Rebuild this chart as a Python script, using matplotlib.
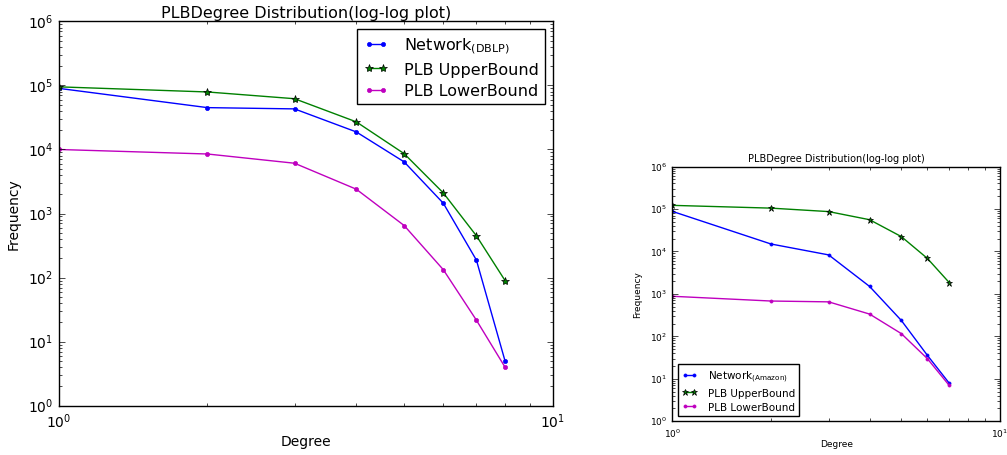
import matplotlib
matplotlib.use("Agg")
import matplotlib.pyplot as plt
from matplotlib.ticker import LogLocator, NullFormatter

# ---- DBLP (left) ----
dblp_degree = [1, 2, 3, 4, 5, 6, 7, 8]
dblp_network = [90000, 45000, 43000, 18800, 6400, 1450, 188, 5]
dblp_upper = [95000, 79000, 62000, 27000, 8600, 2100, 450, 90]
dblp_lower = [10000, 8500, 6100, 2400, 650, 133, 21.7, 4]

# ---- Amazon (right) ----
amz_degree = [1, 2, 3, 4, 5, 6, 7]
amz_network = [88000, 15000, 8300, 1500, 237, 36, 7.9]
amz_upper = [122000, 105000, 87000, 56000, 22400, 6900, 1850]
amz_lower = [880, 680, 650, 335, 116, 30, 7]

TITLE = "PLBDegree Distribution(log-log plot)"

plt.style.use("classic")
plt.rcParams["mathtext.fontset"] = "dejavusans"
plt.rcParams["font.family"] = "DejaVu Sans"


def draw(ax, x, net, up, low, name, loc, fs_title, fs_label, fs_tick, fs_leg,
         ms, title_pad, label_pad):
    ax.plot(x, net, "b.-", label=r"Network$_{\rm (%s)}$" % name, markersize=ms, linewidth=1)
    ax.plot(x, up, "g*-", label="PLB UpperBound", markersize=ms, linewidth=1)
    ax.plot(x, low, "m.-", label="PLB LowerBound", markersize=ms, linewidth=1)
    ax.set_xscale("log")
    ax.set_yscale("log")
    ax.set_xlim(1, 10)
    ax.set_ylim(1, 1e6)
    for axis in (ax.xaxis, ax.yaxis):
        axis.set_minor_locator(LogLocator(base=10, subs=range(2, 10), numticks=20))
        axis.set_minor_formatter(NullFormatter())
    ax.set_title(TITLE, fontsize=fs_title, pad=title_pad)
    ax.set_xlabel("Degree", fontsize=fs_label, labelpad=label_pad)
    ax.set_ylabel("Frequency", fontsize=fs_label)
    ax.tick_params(labelsize=fs_tick)
    ax.legend(loc=loc, fontsize=fs_leg, numpoints=2, labelspacing=0.4,
              handlelength=1.5, handletextpad=1.0)


fig = plt.figure(figsize=(10.07, 4.56), dpi=100, facecolor="white")

ax1 = fig.add_axes([0.0583, 0.108, 0.4908, 0.843])
draw(ax1, dblp_degree, dblp_network, dblp_upper, dblp_lower, "DBLP",
     "upper right", 11.5, 10, 10, 11.5, 6, 3, 3)

ax2 = fig.add_axes([0.6677, 0.074, 0.3253, 0.5585])
draw(ax2, amz_degree, amz_network, amz_upper, amz_lower, "Amazon",
     "lower left", 7, 6.5, 6.5, 7.5, 4.5, 4, 0)

fig.savefig("out.png", dpi=100, facecolor="white")
